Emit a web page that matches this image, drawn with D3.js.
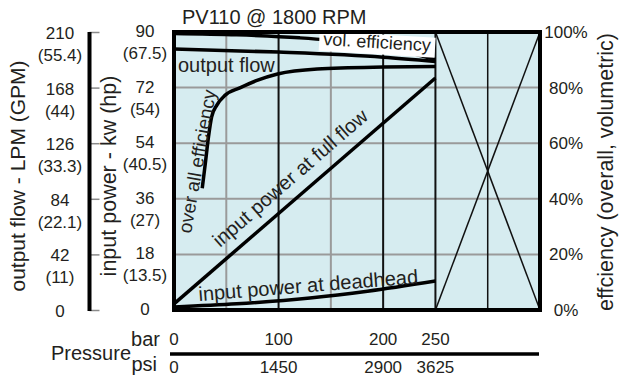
<!DOCTYPE html>
<html>
<head>
<meta charset="utf-8">
<script src="https://cdn.jsdelivr.net/npm/d3@7"></script>
<style>
  html, body { margin: 0; padding: 0; background: #fff; }
  svg { display: block; }
  text { font-family: "Liberation Sans", Arial, Helvetica, sans-serif; fill: #231f20; }
</style>
</head>
<body>
<script>
// ---- data ----
const barTicks = [0, 100, 200, 250];
const psiTicks = [0, 1450, 2900, 3625];
const flowTicks = [210, 168, 126, 84, 42, 0];
const gpmLabels = ["(55.4)", "(44)", "(33.3)", "(22.1)", "(11)", ""];
const powerTicks = [90, 72, 54, 36, 18, 0];
const hpLabels = ["(67.5)", "(54)", "(40.5)", "(27)", "(13.5)", ""];
const pctTicks = [100, 80, 60, 40, 20, 0];

// output flow, LPM
const flowBar = [0, 100, 200, 250];
const flowLpm = [197.2, 194.8, 191, 187.8];
// volumetric efficiency, %
const volBar = [0, 60, 120, 170, 210, 250];
const volPct = [99.5, 99.0, 97.9, 96.2, 93.8, 90.1];
// overall efficiency, %
const effBar = [27, 30, 33, 36, 41, 49, 63, 78, 99, 137, 200, 250];
const effPct = [43.8, 52.9, 62.3, 69.5, 73.7, 77.3, 79.9, 82.4, 84.9, 86.7, 87.4, 87.6];
// input power at full flow (kw scale)
const fullBar = [0, 250];
const fullKw = [2.0, 75.1];
// input power at deadhead (kw scale)
const deadBar = [0, 60, 130, 185, 250];
const deadKw = [1.0, 2.0, 3.9, 6.1, 9.4];

// ---- layout ----
const W = 629, H = 378;
const L = 174, R = 540, T = 32, B = 310;

const svg = d3.select("body").append("svg").attr("width", W).attr("height", H);

const x = d3.scaleLinear().domain([0, 350]).range([L, R]);
const yPct = d3.scaleLinear().domain([0, 100]).range([B, T]);
const yFlow = d3.scaleLinear().domain([0, 210]).range([B, T]);
const yKw = d3.scaleLinear().domain([0, 90]).range([B, T]);

// plot background
svg.append("rect").attr("x", L).attr("y", T).attr("width", R - L).attr("height", B - T)
  .attr("fill", "#d6ecf0");

// horizontal grid
svg.append("g").selectAll("line").data([20, 40, 60, 80]).join("line")
  .attr("x1", L).attr("x2", R).attr("y1", d => yPct(d)).attr("y2", d => yPct(d))
  .attr("stroke", "#9a9a9a").attr("stroke-width", 2);

// vertical grid: grey at 50/150 bar, black at 100/200/250/300 bar
svg.append("g").selectAll("line").data([50, 150]).join("line")
  .attr("x1", d => x(d)).attr("x2", d => x(d)).attr("y1", T).attr("y2", B)
  .attr("stroke", "#9a9a9a").attr("stroke-width", 2);
svg.append("g").selectAll("line").data([100, 200, 250, 300]).join("line")
  .attr("x1", d => x(d)).attr("x2", d => x(d)).attr("y1", T).attr("y2", B)
  .attr("stroke", "#111").attr("stroke-width", d => d === 300 ? 1.5 : 2);

// crossed-out region beyond 250 bar
svg.append("g").selectAll("line").data([[250, 100, 350, 0], [250, 0, 350, 100]]).join("line")
  .attr("x1", d => x(d[0])).attr("y1", d => yPct(d[1]))
  .attr("x2", d => x(d[2])).attr("y2", d => yPct(d[3]))
  .attr("stroke", "#111").attr("stroke-width", 1.5);

// curves
function curve(xs, ys, yScale, c) {
  const pts = xs.map((v, i) => [x(v), yScale(ys[i])]);
  svg.append("path").attr("d", d3.line().curve(c || d3.curveMonotoneX)(pts))
    .attr("fill", "none").attr("stroke", "#000").attr("stroke-width", 3.5)
    .attr("stroke-linecap", "butt");
}
curve(volBar, volPct, yPct);
curve(flowBar, flowLpm, yFlow);
curve(effBar, effPct, yPct);
curve(fullBar, fullKw, yKw, d3.curveLinear);
curve(deadBar, deadKw, yKw);

// curve labels
const vol = svg.append("g").attr("transform", "translate(323,45) rotate(3.4)");
vol.append("rect").attr("x", -4).attr("y", -14).attr("width", 116).attr("height", 20).attr("fill", "#fff");
vol.append("text").attr("font-size", 18).text("vol. efficiency");

svg.append("text").attr("x", 178).attr("y", 72).attr("font-size", 20).text("output flow");
svg.append("text").attr("transform", "translate(191,234) rotate(-80)")
  .attr("font-size", 19).text("over all efficiency");
svg.append("text").attr("transform", "translate(220,248) rotate(-41)")
  .attr("font-size", 20).text("input power at full flow");
svg.append("text").attr("transform", "translate(199,301) rotate(-4.6)")
  .attr("font-size", 20).text("input power at deadhead");

// frame
svg.append("rect").attr("x", L).attr("y", T).attr("width", R - L).attr("height", B - T)
  .attr("fill", "none").attr("stroke", "#000").attr("stroke-width", 4);

// title
svg.append("text").attr("x", 182).attr("y", 24).attr("font-size", 20).text("PV110 @ 1800 RPM");

// left axis (shared by flow and power)
const axisX = 89.5;
svg.append("g").attr("transform", `translate(${axisX},0)`)
  .call(d3.axisRight(yFlow).tickValues(flowTicks).tickSize(10).tickFormat(""))
  .call(g => g.select(".domain").remove())
  .call(g => g.selectAll(".tick line").attr("stroke", "#8a8a8a").attr("stroke-width", 1.5));
svg.append("line").attr("x1", axisX).attr("x2", axisX).attr("y1", T).attr("y2", B + 1)
  .attr("stroke", "#000").attr("stroke-width", 4);

const lab = svg.append("g").attr("font-size", 17).attr("text-anchor", "middle");
flowTicks.forEach((v, i) => {
  const y = yFlow(v);
  lab.append("text").attr("x", 60).attr("y", y + 7).text(v);
  lab.append("text").attr("x", 60).attr("y", y + 29).text(gpmLabels[i]);
});
powerTicks.forEach((v, i) => {
  const y = yKw(v);
  lab.append("text").attr("x", 145).attr("y", y + 5).text(v);
  lab.append("text").attr("x", 145).attr("y", y + 27).text(hpLabels[i]);
});
pctTicks.forEach(v => {
  lab.append("text").attr("x", 566).attr("y", yPct(v) + 6).text(v + "%");
});

// axis titles
svg.append("text").attr("transform", "translate(24.5,176) rotate(-90)")
  .attr("text-anchor", "middle").attr("font-size", 21).text("output flow - LPM (GPM)");
svg.append("text").attr("transform", "translate(116,176) rotate(-90)")
  .attr("text-anchor", "middle").attr("font-size", 21.5).text("input power - kw (hp)");
svg.append("text").attr("transform", "translate(613,172) rotate(-90)")
  .attr("text-anchor", "middle").attr("font-size", 21.5).text("effciency (overall, volumetric)");

// pressure axis
svg.append("line").attr("x1", 170).attr("x2", 539).attr("y1", 354).attr("y2", 354)
  .attr("stroke", "#000").attr("stroke-width", 3.5);
barTicks.forEach((v, i) => {
  lab.append("text").attr("x", x(v)).attr("y", 345).text(v);
  lab.append("text").attr("x", x(v)).attr("y", 373).text(psiTicks[i]);
});
svg.append("text").attr("x", 160).attr("y", 346).attr("text-anchor", "end").attr("font-size", 20).text("bar");
svg.append("text").attr("x", 157).attr("y", 371).attr("text-anchor", "end").attr("font-size", 20).text("psi");
svg.append("text").attr("x", 131).attr("y", 360).attr("text-anchor", "end").attr("font-size", 20).text("Pressure");
</script>
</body>
</html>
